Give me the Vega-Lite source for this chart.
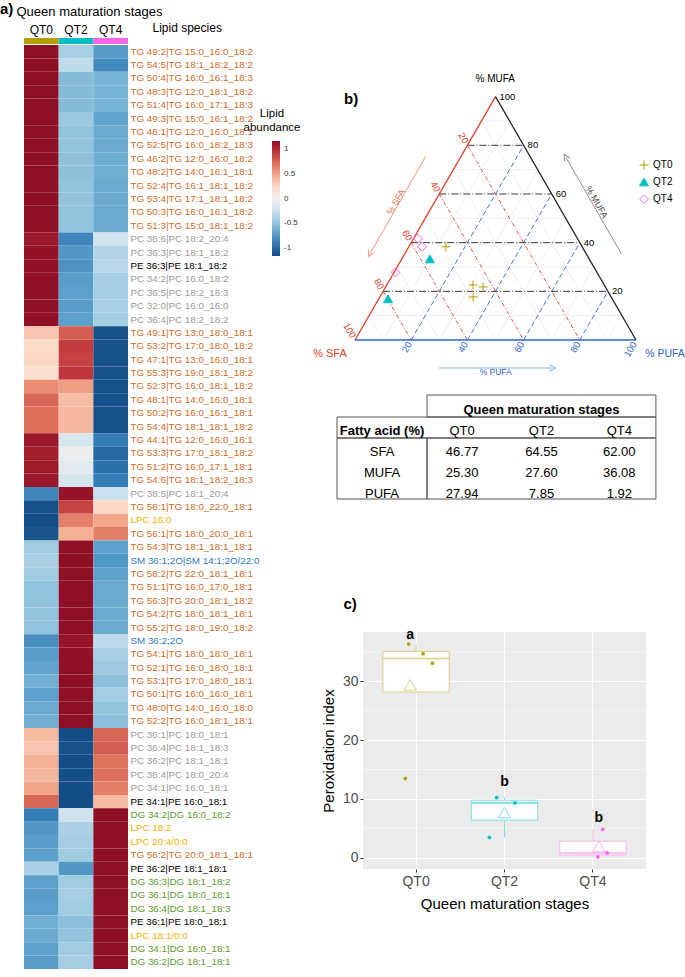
{
"$schema":"https://vega.github.io/schema/vega-lite/v6.json",
"padding":{"left":0,"top":2,"right":0,"bottom":0},
"background":"white",
"config":{"font":"Liberation Sans","view":{"stroke":null}},
"datasets":{
"heat":[
{"lipid":"TG 49:2|TG 15:0_16:0_18:2","QT0":1.15,"QT2":-0.42,"QT4":-0.73},
{"lipid":"TG 54:5|TG 18:1_18:2_18:2","QT0":1.15,"QT2":-0.32,"QT4":-0.83},
{"lipid":"TG 50:4|TG 16:0_16:1_18:3","QT0":1.15,"QT2":-0.55,"QT4":-0.6},
{"lipid":"TG 48:3|TG 12:0_18:1_18:2","QT0":1.15,"QT2":-0.55,"QT4":-0.6},
{"lipid":"TG 51:4|TG 16:0_17:1_18:3","QT0":1.15,"QT2":-0.55,"QT4":-0.6},
{"lipid":"TG 49:3|TG 15:0_16:1_18:2","QT0":1.15,"QT2":-0.47,"QT4":-0.68},
{"lipid":"TG 46:1|TG 12:0_16:0_18:1","QT0":1.15,"QT2":-0.5,"QT4":-0.65},
{"lipid":"TG 52:5|TG 16:0_18:2_18:3","QT0":1.15,"QT2":-0.5,"QT4":-0.65},
{"lipid":"TG 46:2|TG 12:0_16:0_18:2","QT0":1.15,"QT2":-0.52,"QT4":-0.63},
{"lipid":"TG 48:2|TG 14:0_16:1_18:1","QT0":1.15,"QT2":-0.52,"QT4":-0.63},
{"lipid":"TG 52:4|TG 16:1_18:1_18:2","QT0":1.15,"QT2":-0.5,"QT4":-0.65},
{"lipid":"TG 53:4|TG 17:1_18:1_18:2","QT0":1.15,"QT2":-0.5,"QT4":-0.65},
{"lipid":"TG 50:3|TG 16:0_16:1_18:2","QT0":1.15,"QT2":-0.5,"QT4":-0.65},
{"lipid":"TG 51:3|TG 15:0_18:1_18:2","QT0":1.15,"QT2":-0.5,"QT4":-0.65},
{"lipid":"PC 38:6|PC 18:2_20:4","QT0":1.1,"QT2":-0.85,"QT4":-0.25},
{"lipid":"PC 36:3|PC 18:1_18:2","QT0":1.13,"QT2":-0.75,"QT4":-0.38},
{"lipid":"PE 36:3|PE 18:1_18:2","QT0":1.13,"QT2":-0.78,"QT4":-0.35},
{"lipid":"PC 34:2|PC 16:0_18:2","QT0":1.14,"QT2":-0.72,"QT4":-0.42},
{"lipid":"PC 36:5|PC 18:2_18:3","QT0":1.14,"QT2":-0.7,"QT4":-0.44},
{"lipid":"PC 32:0|PC 16:0_16:0","QT0":1.14,"QT2":-0.72,"QT4":-0.42},
{"lipid":"PC 36:4|PC 18:2_18:2","QT0":1.14,"QT2":-0.7,"QT4":-0.44},
{"lipid":"TG 49:1|TG 13:0_18:0_18:1","QT0":0.35,"QT2":0.78,"QT4":-1.13},
{"lipid":"TG 53:2|TG 17:0_18:0_18:2","QT0":0.22,"QT2":0.9,"QT4":-1.12},
{"lipid":"TG 47:1|TG 13:0_16:0_18:1","QT0":0.25,"QT2":0.88,"QT4":-1.13},
{"lipid":"TG 55:3|TG 19:0_18:1_18:2","QT0":0.2,"QT2":0.93,"QT4":-1.13},
{"lipid":"TG 52:3|TG 16:0_18:1_18:2","QT0":0.6,"QT2":0.53,"QT4":-1.13},
{"lipid":"TG 48:1|TG 14:0_16:0_18:1","QT0":0.75,"QT2":0.38,"QT4":-1.13},
{"lipid":"TG 50:2|TG 16:0_16:1_18:1","QT0":0.72,"QT2":0.41,"QT4":-1.13},
{"lipid":"TG 54:4|TG 18:1_18:1_18:2","QT0":0.72,"QT2":0.41,"QT4":-1.13},
{"lipid":"TG 44:1|TG 12:0_16:0_16:1","QT0":1.1,"QT2":-0.2,"QT4":-0.9},
{"lipid":"TG 53:3|TG 17:0_18:1_18:2","QT0":1.05,"QT2":-0.05,"QT4":-1.0},
{"lipid":"TG 51:2|TG 16:0_17:1_18:1","QT0":1.08,"QT2":-0.12,"QT4":-0.96},
{"lipid":"TG 54:6|TG 18:1_18:2_18:3","QT0":1.1,"QT2":-0.2,"QT4":-0.9},
{"lipid":"PC 38:5|PC 18:1_20:4","QT0":-0.85,"QT2":1.12,"QT4":-0.27},
{"lipid":"TG 58:1|TG 18:0_22:0_18:1","QT0":-1.13,"QT2":0.88,"QT4":0.25},
{"lipid":"LPC 16:0","QT0":-1.15,"QT2":0.65,"QT4":0.5},
{"lipid":"TG 56:1|TG 18:0_20:0_18:1","QT0":-1.1,"QT2":0.45,"QT4":0.65},
{"lipid":"TG 54:3|TG 18:1_18:1_18:1","QT0":-0.45,"QT2":1.15,"QT4":-0.7},
{"lipid":"SM 36:1;2O|SM 14:1;2O/22:0","QT0":-0.4,"QT2":1.15,"QT4":-0.75},
{"lipid":"TG 58:2|TG 22:0_18:1_18:1","QT0":-0.45,"QT2":1.15,"QT4":-0.7},
{"lipid":"TG 51:1|TG 16:0_17:0_18:1","QT0":-0.5,"QT2":1.15,"QT4":-0.65},
{"lipid":"TG 56:3|TG 20:0_18:1_18:2","QT0":-0.5,"QT2":1.15,"QT4":-0.65},
{"lipid":"TG 54:2|TG 18:0_18:1_18:1","QT0":-0.5,"QT2":1.15,"QT4":-0.65},
{"lipid":"TG 55:2|TG 18:0_19:0_18:2","QT0":-0.5,"QT2":1.15,"QT4":-0.65},
{"lipid":"SM 36:2;2O","QT0":-0.8,"QT2":1.12,"QT4":-0.32},
{"lipid":"TG 54:1|TG 18:0_18:0_18:1","QT0":-0.72,"QT2":1.14,"QT4":-0.42},
{"lipid":"TG 52:1|TG 16:0_18:0_18:1","QT0":-0.68,"QT2":1.14,"QT4":-0.46},
{"lipid":"TG 53:1|TG 17:0_18:0_18:1","QT0":-0.62,"QT2":1.15,"QT4":-0.53},
{"lipid":"TG 50:1|TG 16:0_16:0_18:1","QT0":-0.7,"QT2":1.14,"QT4":-0.44},
{"lipid":"TG 48:0|TG 14:0_16:0_18:0","QT0":-0.65,"QT2":1.15,"QT4":-0.5},
{"lipid":"TG 52:2|TG 16:0_18:1_18:1","QT0":-0.62,"QT2":1.15,"QT4":-0.53},
{"lipid":"PC 36:1|PC 18:0_18:1","QT0":0.4,"QT2":-1.15,"QT4":0.75},
{"lipid":"PC 36:4|PC 18:1_18:3","QT0":0.35,"QT2":-1.13,"QT4":0.78},
{"lipid":"PC 36:2|PC 18:1_18:1","QT0":0.45,"QT2":-1.15,"QT4":0.7},
{"lipid":"PC 38:4|PC 18:0_20:4","QT0":0.42,"QT2":-1.14,"QT4":0.72},
{"lipid":"PC 34:1|PC 16:0_18:1","QT0":0.5,"QT2":-1.15,"QT4":0.65},
{"lipid":"PE 34:1|PE 16:0_18:1","QT0":0.75,"QT2":-1.15,"QT4":0.4},
{"lipid":"DG 34:2|DG 16:0_18:2","QT0":-0.9,"QT2":-0.25,"QT4":1.15},
{"lipid":"LPC 18:2","QT0":-0.75,"QT2":-0.4,"QT4":1.15},
{"lipid":"LPC 20:4/0:0","QT0":-0.72,"QT2":-0.43,"QT4":1.15},
{"lipid":"TG 56:2|TG 20:0_18:1_18:1","QT0":-0.7,"QT2":-0.45,"QT4":1.15},
{"lipid":"PE 36:2|PE 18:1_18:1","QT0":-0.4,"QT2":-0.75,"QT4":1.15},
{"lipid":"DG 36:3|DG 18:1_18:2","QT0":-0.7,"QT2":-0.45,"QT4":1.15},
{"lipid":"DG 36:1|DG 18:0_18:1","QT0":-0.72,"QT2":-0.43,"QT4":1.15},
{"lipid":"DG 36:4|DG 18:1_18:3","QT0":-0.7,"QT2":-0.45,"QT4":1.15},
{"lipid":"PE 36:1|PE 18:0_18:1","QT0":-0.62,"QT2":-0.53,"QT4":1.15},
{"lipid":"LPC 18:1/0:0","QT0":-0.65,"QT2":-0.5,"QT4":1.15},
{"lipid":"DG 34:1|DG 16:0_18:1","QT0":-0.7,"QT2":-0.45,"QT4":1.15},
{"lipid":"DG 36:2|DG 18:1_18:1","QT0":-0.72,"QT2":-0.43,"QT4":1.15}
],
"tern":[
{"r":"mn","id":"M10","s":90,"m":10,"p":0},{"r":"mn","id":"M10","s":0,"m":10,"p":90},
{"r":"mn","id":"S10","s":10,"m":90,"p":0},{"r":"mn","id":"S10","s":10,"m":0,"p":90},
{"r":"mn","id":"P10","s":90,"m":0,"p":10},{"r":"mn","id":"P10","s":0,"m":90,"p":10},
{"r":"mn","id":"M30","s":70,"m":30,"p":0},{"r":"mn","id":"M30","s":0,"m":30,"p":70},
{"r":"mn","id":"S30","s":30,"m":70,"p":0},{"r":"mn","id":"S30","s":30,"m":0,"p":70},
{"r":"mn","id":"P30","s":70,"m":0,"p":30},{"r":"mn","id":"P30","s":0,"m":70,"p":30},
{"r":"mn","id":"M50","s":50,"m":50,"p":0},{"r":"mn","id":"M50","s":0,"m":50,"p":50},
{"r":"mn","id":"S50","s":50,"m":50,"p":0},{"r":"mn","id":"S50","s":50,"m":0,"p":50},
{"r":"mn","id":"P50","s":50,"m":0,"p":50},{"r":"mn","id":"P50","s":0,"m":50,"p":50},
{"r":"mn","id":"M70","s":30,"m":70,"p":0},{"r":"mn","id":"M70","s":0,"m":70,"p":30},
{"r":"mn","id":"S70","s":70,"m":30,"p":0},{"r":"mn","id":"S70","s":70,"m":0,"p":30},
{"r":"mn","id":"P70","s":30,"m":0,"p":70},{"r":"mn","id":"P70","s":0,"m":30,"p":70},
{"r":"mn","id":"M90","s":10,"m":90,"p":0},{"r":"mn","id":"M90","s":0,"m":90,"p":10},
{"r":"mn","id":"S90","s":90,"m":10,"p":0},{"r":"mn","id":"S90","s":90,"m":0,"p":10},
{"r":"mn","id":"P90","s":10,"m":0,"p":90},{"r":"mn","id":"P90","s":0,"m":10,"p":90},
{"r":"M","id":"M20","s":80,"m":20,"p":0},{"r":"M","id":"M20","s":0,"m":20,"p":80},
{"r":"M","id":"M40","s":60,"m":40,"p":0},{"r":"M","id":"M40","s":0,"m":40,"p":60},
{"r":"M","id":"M60","s":40,"m":60,"p":0},{"r":"M","id":"M60","s":0,"m":60,"p":40},
{"r":"M","id":"M80","s":20,"m":80,"p":0},{"r":"M","id":"M80","s":0,"m":80,"p":20},
{"r":"S","id":"S20","s":20,"m":80,"p":0},{"r":"S","id":"S20","s":20,"m":0,"p":80},
{"r":"S","id":"S40","s":40,"m":60,"p":0},{"r":"S","id":"S40","s":40,"m":0,"p":60},
{"r":"S","id":"S60","s":60,"m":40,"p":0},{"r":"S","id":"S60","s":60,"m":0,"p":40},
{"r":"S","id":"S80","s":80,"m":20,"p":0},{"r":"S","id":"S80","s":80,"m":0,"p":20},
{"r":"P","id":"P20","s":80,"m":0,"p":20},{"r":"P","id":"P20","s":0,"m":80,"p":20},
{"r":"P","id":"P40","s":60,"m":0,"p":40},{"r":"P","id":"P40","s":0,"m":60,"p":40},
{"r":"P","id":"P60","s":40,"m":0,"p":60},{"r":"P","id":"P60","s":0,"m":40,"p":60},
{"r":"P","id":"P80","s":20,"m":0,"p":80},{"r":"P","id":"P80","s":0,"m":20,"p":80},
{"r":"e","id":"eS","s":100,"m":0,"p":0},{"r":"e","id":"eS","s":0,"m":100,"p":0},
{"r":"e","id":"eP","s":100,"m":0,"p":0},{"r":"e","id":"eP","s":0,"m":0,"p":100},
{"r":"e","id":"eM","s":0,"m":0,"p":100},{"r":"e","id":"eM","s":0,"m":100,"p":0},
{"r":"lM","t":"20","s":0,"m":20,"p":80},{"r":"lM","t":"40","s":0,"m":40,"p":60},{"r":"lM","t":"60","s":0,"m":60,"p":40},{"r":"lM","t":"80","s":0,"m":80,"p":20},{"r":"lM","t":"100","s":0,"m":100,"p":0},
{"r":"lS","t":"20","s":20,"m":80,"p":0},{"r":"lS","t":"40","s":40,"m":60,"p":0},{"r":"lS","t":"60","s":60,"m":40,"p":0},{"r":"lS","t":"80","s":80,"m":20,"p":0},{"r":"lS","t":"100","s":100,"m":0,"p":0},
{"r":"lP","t":"20","s":80,"m":0,"p":20},{"r":"lP","t":"40","s":60,"m":0,"p":40},{"r":"lP","t":"60","s":40,"m":0,"p":60},{"r":"lP","t":"80","s":20,"m":0,"p":80},{"r":"lP","t":"100","s":0,"m":0,"p":100},
{"r":"pt","stage":"QT0","s":48.5,"m":38.3,"p":13.2},
{"r":"pt","stage":"QT0","s":46.7,"m":22.6,"p":30.7},
{"r":"pt","stage":"QT0","s":43.5,"m":21.8,"p":34.7},
{"r":"pt","stage":"QT0","s":49.1,"m":17.7,"p":33.2},
{"r":"pt","stage":"QT2","s":56.7,"m":33.3,"p":10.0},
{"r":"pt","stage":"QT2","s":79.8,"m":16.9,"p":3.3},
{"r":"pt","stage":"QT4","s":56.8,"m":41.6,"p":1.6},
{"r":"pt","stage":"QT4","s":57.0,"m":38.3,"p":4.7},
{"r":"pt","stage":"QT4","s":71.8,"m":27.7,"p":0.5},
{"r":"tk","t":"% MUFA","ax":0.4993,"ay":0.9278},
{"r":"tr","t":"% SFA","ax":-0.089,"ay":-0.0498},
{"r":"tb","t":"% PUFA","ax":1.1032,"ay":-0.0498},
{"r":"al","id":"aS","ax":0.2516,"ay":0.6537},{"r":"al","id":"aS","ax":0.0534,"ay":0.3071},
{"r":"al","id":"aM","ax":0.9477,"ay":0.3071},{"r":"al","id":"aM","ax":0.7498,"ay":0.6512},
{"r":"al","id":"aP","ax":0.2989,"ay":-0.0996},{"r":"al","id":"aP","ax":0.7021,"ay":-0.0996},
{"r":"hS","ax":0.0534,"ay":0.3071},
{"r":"hM","ax":0.7498,"ay":0.6512},
{"r":"hP","ax":0.7021,"ay":-0.0996},
{"r":"lbS","t":"% SFA","ax":0.1448,"ay":0.4911},
{"r":"lbM","t":"% MUFA","ax":0.86,"ay":0.4911},
{"r":"lbP","t":"% PUFA","ax":0.5007,"ay":-0.1139},
{"r":"bb","t":"b)","ax":-0.0391,"ay":0.8559}
],
"tbl":[
{"k":"box","x0":1.18,"x1":4.18,"y0":0,"y1":1.058},
{"k":"box","x0":0,"x1":4.18,"y0":1.058,"y1":2.067},
{"k":"box","x0":0,"x1":1.18,"y0":2.067,"y1":5},
{"k":"box","x0":1.18,"x1":4.18,"y0":2.067,"y1":5},
{"k":"hb","c":2.68,"r":0.7,"t":"Queen maturation stages"},
{"k":"hb","c":0.59,"r":1.72,"t":"Fatty acid (%)"},
{"k":"tx","c":1.64,"r":1.72,"t":"QT0"},
{"k":"tx","c":2.68,"r":1.72,"t":"QT2"},
{"k":"tx","c":3.7,"r":1.72,"t":"QT4"},
{"k":"tx","c":0.59,"r":2.74,"t":"SFA"},
{"k":"tx","c":1.64,"r":2.74,"t":"46.77"},
{"k":"tx","c":2.68,"r":2.74,"t":"64.55"},
{"k":"tx","c":3.7,"r":2.74,"t":"62.00"},
{"k":"tx","c":0.59,"r":3.74,"t":"MUFA"},
{"k":"tx","c":1.64,"r":3.74,"t":"25.30"},
{"k":"tx","c":2.68,"r":3.74,"t":"27.60"},
{"k":"tx","c":3.7,"r":3.74,"t":"36.08"},
{"k":"tx","c":0.59,"r":4.74,"t":"PUFA"},
{"k":"tx","c":1.64,"r":4.74,"t":"27.94"},
{"k":"tx","c":2.68,"r":4.74,"t":"7.85"},
{"k":"tx","c":3.7,"r":4.74,"t":"1.92"}
],
"perox":[
{"stage":"QT0","v":36.34,"jx":0.917},
{"stage":"QT0","v":34.7,"jx":1.079},
{"stage":"QT0","v":33.1,"jx":1.184},
{"stage":"QT0","v":13.46,"jx":0.879},
{"stage":"QT2","v":10.22,"jx":1.912},
{"stage":"QT2","v":9.32,"jx":2.119},
{"stage":"QT2","v":3.46,"jx":1.829},
{"stage":"QT4","v":4.82,"jx":3.111},
{"stage":"QT4","v":0.8,"jx":3.16},
{"stage":"QT4","v":0.12,"jx":3.055}
]
},
"spacing":339,
"bounds":"flush",
"resolve":{"scale":{"color":"independent","fill":"independent","stroke":"independent","shape":"independent","x":"independent","y":"independent"},"legend":{"color":"independent","fill":"independent","stroke":"independent","shape":"independent"}},
"hconcat":[
{"vconcat":[
 {"width":104,"height":6,
  "data":{"values":[{"stage":"QT0"},{"stage":"QT2"},{"stage":"QT4"}]},
  "title":{"text":"a)","anchor":"start","fontSize":15,"fontWeight":"bold","color":"black","dx":-16,"dy":12,"offset":0},
  "mark":"rect",
  "encoding":{
   "x":{"field":"stage","type":"nominal","scale":{"paddingInner":0,"paddingOuter":0},"axis":{"orient":"top","domain":false,"ticks":false,"tickSize":0,"labelPadding":2,"labelFontSize":12,"labelColor":"black","labelAngle":0,"title":"Queen maturation stages","titleAnchor":"start","titleAlign":"left","titleX":-8,"titleY":-27,"titleBaseline":"middle","titleFontSize":13,"titleFontWeight":"normal","titleColor":"black"}},
   "fill":{"field":"stage","type":"nominal","scale":{"domain":["QT0","QT2","QT4"],"range":["#B79F00","#00BFC4","#F564E3"]},"legend":null}
  }},
 {"width":104,"height":924,
  "data":{"name":"heat"},
  "transform":[{"fold":["QT0","QT2","QT4"],"as":["stage","z"]}],
  "mark":"rect",
  "encoding":{
   "x":{"field":"stage","type":"nominal","scale":{"paddingInner":0,"paddingOuter":0},"axis":null},
   "y":{"field":"lipid","type":"nominal","sort":null,"scale":{"paddingInner":0,"paddingOuter":0},"axis":{"orient":"right","domain":false,"ticks":false,"labelPadding":2,"labelFontSize":9.8,"labelLimit":300,"labelOverlap":false,
     "labelColor":{"condition":[{"test":"indexof(datum.value,'TG')===0","value":"#D2691E"},{"test":"indexof(datum.value,'PC')===0","value":"#9A9A9A"},{"test":"indexof(datum.value,'LPC')===0","value":"#F2B100"},{"test":"indexof(datum.value,'SM')===0","value":"#1F7AC2"},{"test":"indexof(datum.value,'DG')===0","value":"#5A9A2C"}],"value":"black"},
     "title":"Lipid species","titleAngle":0,"titleAlign":"left","titleBaseline":"middle","titleX":24,"titleY":-18,"titleFontSize":12,"titleFontWeight":"normal","titleColor":"black"}},
   "fill":{"field":"z","type":"quantitative","scale":{"scheme":"redblue","reverse":true,"domain":[-1.16,1.16]},
     "legend":{"orient":"none","legendX":220,"legendY":63,"title":["Lipid","abundance"],"titleFontSize":11.5,"titleFontWeight":"normal","titleColor":"black","titleAlign":"center","titleAnchor":"start","titlePadding":8,"gradientLength":115,"gradientThickness":8,"values":[-1,-0.5,0,0.5,1],"labelFontSize":8,"labelColor":"#333333","labelOffset":4,"labelExpr":"datum.value + ''","gradientStrokeWidth":0,"direction":"vertical"}}
  }}
 ],
 "spacing":1,"bounds":"flush",
 "resolve":{"scale":{"fill":"independent","x":"independent"},"legend":{"fill":"independent"}}
},
{"vconcat":[
 {"width":321,"height":349,
  "data":{"name":"tern"},
  "transform":[
   {"calculate":"isValid(datum.s) ? (datum.p + datum.m/2)/100 : datum.ax","as":"x"},
   {"calculate":"isValid(datum.s) ? datum.m*0.008660254 : datum.ay","as":"y"}
  ],
  "encoding":{
   "x":{"field":"x","type":"quantitative","scale":{"domain":[0.02847,1.17082],"nice":false,"zero":false},"axis":null},
   "y":{"field":"y","type":"quantitative","scale":{"domain":[-0.16726,1.07473],"nice":false,"zero":false},"axis":null}
  },
  "layer":[
   {"transform":[{"filter":"datum.r==='mn'"}],"mark":{"type":"line","color":"#E4E4E4","strokeWidth":0.6},"encoding":{"detail":{"field":"id"}}},
   {"transform":[{"filter":"datum.r==='S'"}],"mark":{"type":"line","color":"#E0402A","strokeWidth":0.9,"strokeDash":[4,2,1,2]},"encoding":{"detail":{"field":"id"}}},
   {"transform":[{"filter":"datum.r==='P'"}],"mark":{"type":"line","color":"#2F63C9","strokeWidth":0.9,"strokeDash":[5,3]},"encoding":{"detail":{"field":"id"}}},
   {"transform":[{"filter":"datum.r==='M'"}],"mark":{"type":"line","color":"#222222","strokeWidth":0.9,"strokeDash":[7,2,1,2]},"encoding":{"detail":{"field":"id"}}},
   {"transform":[{"filter":"datum.r==='e'"}],"mark":{"type":"line","strokeWidth":1.3},"encoding":{"detail":{"field":"id"},"color":{"field":"id","type":"nominal","scale":{"domain":["eS","eP","eM","aS","aM","aP"],"range":["#E0402A","#2F63C9","#222222","#F4967A","#8C8C8C","#7FAEE0"]},"legend":null}}},
   {"transform":[{"filter":"datum.r==='al'"}],"mark":{"type":"line","strokeWidth":1},"encoding":{"detail":{"field":"id"},"color":{"field":"id","type":"nominal","scale":{"domain":["eS","eP","eM","aS","aM","aP"],"range":["#E0402A","#2F63C9","#222222","#F4967A","#8C8C8C","#7FAEE0"]},"legend":null}}},
   {"transform":[{"filter":"datum.r==='hS'"}],"mark":{"type":"point","shape":"M-1,1L0,-1L1,1","filled":false,"size":40,"strokeWidth":1,"color":"#F4967A","angle":210,"opacity":1}},
   {"transform":[{"filter":"datum.r==='hM'"}],"mark":{"type":"point","shape":"M-1,1L0,-1L1,1","filled":false,"size":40,"strokeWidth":1,"color":"#8C8C8C","angle":330,"opacity":1}},
   {"transform":[{"filter":"datum.r==='hP'"}],"mark":{"type":"point","shape":"M-1,1L0,-1L1,1","filled":false,"size":40,"strokeWidth":1,"color":"#7FAEE0","angle":90,"opacity":1}},
   {"transform":[{"filter":"datum.r==='lM'"}],"mark":{"type":"text","align":"left","baseline":"middle","dx":4,"fontSize":9.5,"color":"black"},"encoding":{"text":{"field":"t"}}},
   {"transform":[{"filter":"datum.r==='lS'"}],"mark":{"type":"text","align":"right","baseline":"middle","dx":-3,"angle":60,"fontSize":9.5,"color":"#E0402A"},"encoding":{"text":{"field":"t"}}},
   {"transform":[{"filter":"datum.r==='lP'"}],"mark":{"type":"text","align":"right","baseline":"middle","dx":-3,"angle":300,"fontSize":9.5,"color":"#2F63C9"},"encoding":{"text":{"field":"t"}}},
   {"transform":[{"filter":"datum.r==='tk'"}],"mark":{"type":"text","fontSize":10,"color":"black","baseline":"middle"},"encoding":{"text":{"field":"t"}}},
   {"transform":[{"filter":"datum.r==='tr'"}],"mark":{"type":"text","fontSize":11,"color":"#E0402A","baseline":"middle"},"encoding":{"text":{"field":"t"}}},
   {"transform":[{"filter":"datum.r==='tb'"}],"mark":{"type":"text","fontSize":10.5,"color":"#2F63C9","baseline":"middle"},"encoding":{"text":{"field":"t"}}},
   {"transform":[{"filter":"datum.r==='lbS'"}],"mark":{"type":"text","fontSize":9,"color":"#E8664A","baseline":"middle","angle":300},"encoding":{"text":{"field":"t"}}},
   {"transform":[{"filter":"datum.r==='lbM'"}],"mark":{"type":"text","fontSize":9,"color":"#444444","baseline":"middle","angle":60},"encoding":{"text":{"field":"t"}}},
   {"transform":[{"filter":"datum.r==='lbP'"}],"mark":{"type":"text","fontSize":8.5,"color":"#2F63C9","baseline":"middle"},"encoding":{"text":{"field":"t"}}},
   {"transform":[{"filter":"datum.r==='bb'"}],"mark":{"type":"text","fontSize":15,"fontWeight":"bold","color":"black","align":"left","baseline":"middle"},"encoding":{"text":{"field":"t"}}},
   {"transform":[{"filter":"datum.r==='pt'"}],"mark":{"type":"point","strokeWidth":1,"size":80,"opacity":1},
    "encoding":{
     "shape":{"field":"stage","type":"nominal","scale":{"domain":["QT0","QT2","QT4"],"range":["M-1,0L1,0M0,-1L0,1","triangle-up","diamond"]},"legend":{"orient":"none","legendX":276,"legendY":122,"title":null,"labelFontSize":10,"labelColor":"black","symbolStrokeWidth":1,"symbolSize":80,"rowPadding":4}},
     "stroke":{"field":"stage","type":"nominal","scale":{"domain":["QT0","QT2","QT4"],"range":["#B79F00","#00BFC4","#F564E3"]},"legend":{"orient":"none","legendX":276,"legendY":122,"title":null,"labelFontSize":10,"labelColor":"black","symbolStrokeWidth":1,"symbolSize":80,"rowPadding":4}},
     "fill":{"field":"stage","type":"nominal","scale":{"domain":["QT0","QT2","QT4"],"range":["transparent","#00BFC4","transparent"]},"legend":{"orient":"none","legendX":276,"legendY":122,"title":null,"labelFontSize":10,"labelColor":"black","symbolStrokeWidth":1,"symbolSize":80,"rowPadding":4}}
    }}
  ]},
 {"width":321,"height":245,
  "data":{"name":"tbl"},
  "layer":[
   {"transform":[{"filter":"datum.k==='box'"}],"mark":{"type":"rect","filled":false,"color":"#555555","strokeWidth":1},
    "encoding":{"x":{"field":"x0","type":"quantitative","scale":{"domain":[0.34076,4.54784],"nice":false,"zero":false},"axis":null},"x2":{"field":"x1"},
     "y":{"field":"y0","type":"quantitative","scale":{"domain":[-0.38462,11.39423],"nice":false,"zero":false,"reverse":true},"axis":null},"y2":{"field":"y1"}}},
   {"transform":[{"filter":"datum.k==='hb'"}],"mark":{"type":"text","fontSize":13,"fontWeight":"bold","color":"black","baseline":"middle"},
    "encoding":{"x":{"field":"c","type":"quantitative","scale":{"domain":[0.34076,4.54784],"nice":false,"zero":false},"axis":null},
     "y":{"field":"r","type":"quantitative","scale":{"domain":[-0.38462,11.39423],"nice":false,"zero":false,"reverse":true},"axis":null},"text":{"field":"t"}}},
   {"transform":[{"filter":"datum.k==='tx'"}],"mark":{"type":"text","fontSize":13,"color":"black","baseline":"middle"},
    "encoding":{"x":{"field":"c","type":"quantitative","scale":{"domain":[0.34076,4.54784],"nice":false,"zero":false},"axis":null},
     "y":{"field":"r","type":"quantitative","scale":{"domain":[-0.38462,11.39423],"nice":false,"zero":false,"reverse":true},"axis":null},"text":{"field":"t"}}}
  ]},
 {"width":283,"height":237,
  "view":{"fill":"#EBEBEB","stroke":null},
  "title":{"text":"c)","anchor":"start","fontSize":15,"fontWeight":"bold","color":"black","dx":22,"offset":16},
  "resolve":{"scale":{"x":"independent"}},
  "layer":[
   {"data":{"values":[{"g":5},{"g":15},{"g":25},{"g":35}]},"mark":{"type":"rule","color":"white","strokeWidth":0.5},
    "encoding":{"y":{"field":"g","type":"quantitative","title":"Peroxidation index","scale":{"domain":[-1.93,38.4],"nice":false,"zero":false},
     "axis":{"values":[0,10,20,30],"grid":true,"gridColor":"white","gridWidth":1.1,"domain":false,"ticks":true,"tickColor":"#333333","tickSize":3,"labelFontSize":14,"labelColor":"#4D4D4D","labelPadding":2,"title":"Peroxidation index","titleFontSize":15,"titleFontWeight":"normal","titleColor":"black","titlePadding":6}}}},
   {"data":{"name":"perox"},
    "transform":[{"joinaggregate":[{"op":"q1","field":"v","as":"q1"},{"op":"q3","field":"v","as":"q3"}],"groupby":["stage"]},
                 {"filter":"datum.v >= datum.q1 - 1.5*(datum.q3-datum.q1) && datum.v <= datum.q3 + 1.5*(datum.q3-datum.q1)"}],
    "mark":{"type":"rule","strokeWidth":1},
    "encoding":{
     "x":{"field":"stage","type":"nominal","scale":{"domain":["QT0","QT2","QT4"],"paddingInner":0,"paddingOuter":0.1},
      "axis":{"grid":true,"gridColor":"white","gridWidth":1.1,"bandPosition":0.5,"domain":false,"tickColor":"#333333","tickSize":3,"labelFontSize":14,"labelColor":"#4D4D4D","labelAngle":0,"labelPadding":2,"title":"Queen maturation stages","titleFontSize":15,"titleFontWeight":"normal","titleColor":"black","titlePadding":8}},
     "y":{"aggregate":"min","field":"v","type":"quantitative","title":"Peroxidation index","scale":{"domain":[-1.93,38.4],"nice":false,"zero":false}},
     "y2":{"aggregate":"max","field":"v"},
     "stroke":{"field":"stage","type":"nominal","scale":{"domain":["QT0","QT2","QT4"],"range":["#DBCF80","#80DFE2","#FAB2F1"]},"legend":null}}},
   {"data":{"name":"perox"},"mark":{"type":"bar","fill":"white","strokeWidth":1,"width":{"band":0.75}},
    "encoding":{
     "x":{"field":"stage","type":"nominal","scale":{"domain":["QT0","QT2","QT4"],"paddingInner":0,"paddingOuter":0.1},"axis":null},
     "y":{"aggregate":"q1","field":"v","type":"quantitative","title":"Peroxidation index","scale":{"domain":[-1.93,38.4],"nice":false,"zero":false}},
     "y2":{"aggregate":"q3","field":"v"},
     "stroke":{"field":"stage","type":"nominal","scale":{"domain":["QT0","QT2","QT4"],"range":["#DBCF80","#80DFE2","#FAB2F1"]},"legend":null}}},
   {"data":{"name":"perox"},"mark":{"type":"tick","size":66,"thickness":1.6,"opacity":1},
    "encoding":{
     "x":{"field":"stage","type":"nominal","scale":{"domain":["QT0","QT2","QT4"],"paddingInner":0,"paddingOuter":0.1},"axis":null},
     "y":{"aggregate":"median","field":"v","type":"quantitative","title":"Peroxidation index","scale":{"domain":[-1.93,38.4],"nice":false,"zero":false}},
     "fill":{"field":"stage","type":"nominal","scale":{"domain":["QT0","QT2","QT4"],"range":["#DBCF80","#80DFE2","#FAB2F1"]},"legend":null}}},
   {"data":{"name":"perox"},"mark":{"type":"point","shape":"triangle-up","filled":false,"size":150,"strokeWidth":1,"opacity":1},
    "encoding":{
     "x":{"field":"stage","type":"nominal","scale":{"domain":["QT0","QT2","QT4"],"paddingInner":0,"paddingOuter":0.1},"axis":null},
     "y":{"aggregate":"mean","field":"v","type":"quantitative","title":"Peroxidation index","scale":{"domain":[-1.93,38.4],"nice":false,"zero":false}},
     "stroke":{"field":"stage","type":"nominal","scale":{"domain":["QT0","QT2","QT4"],"range":["#DBCF80","#80DFE2","#FAB2F1"]},"legend":null}}},
   {"data":{"name":"perox"},"mark":{"type":"point","filled":true,"size":14,"opacity":1},
    "encoding":{
     "x":{"field":"jx","type":"quantitative","scale":{"domain":[0.4,3.6],"nice":false,"zero":false},"axis":null},
     "y":{"field":"v","type":"quantitative","title":"Peroxidation index","scale":{"domain":[-1.93,38.4],"nice":false,"zero":false}},
     "color":{"field":"stage","type":"nominal","scale":{"domain":["QT0","QT2","QT4"],"range":["#B79F00","#00BFC4","#F564E3"]},"legend":null}}},
   {"data":{"values":[{"stage":"QT0","y":37.9,"t":"a"},{"stage":"QT2","y":12.95,"t":"b"},{"stage":"QT4","y":6.8,"t":"b"}]},
    "mark":{"type":"text","fontSize":14,"fontWeight":"bold","color":"black","baseline":"middle"},
    "encoding":{
     "x":{"field":"stage","type":"nominal","scale":{"domain":["QT0","QT2","QT4"],"paddingInner":0,"paddingOuter":0.1},"axis":null},
     "y":{"field":"y","type":"quantitative","title":"Peroxidation index","scale":{"domain":[-1.93,38.4],"nice":false,"zero":false}},
     "text":{"field":"t"}}}
  ]}
 ],
 "spacing":0,"bounds":"flush",
 "resolve":{"scale":{"color":"independent","fill":"independent","stroke":"independent","shape":"independent","x":"independent","y":"independent"},"legend":{"color":"independent","fill":"independent","stroke":"independent","shape":"independent"}}
}
]
}
